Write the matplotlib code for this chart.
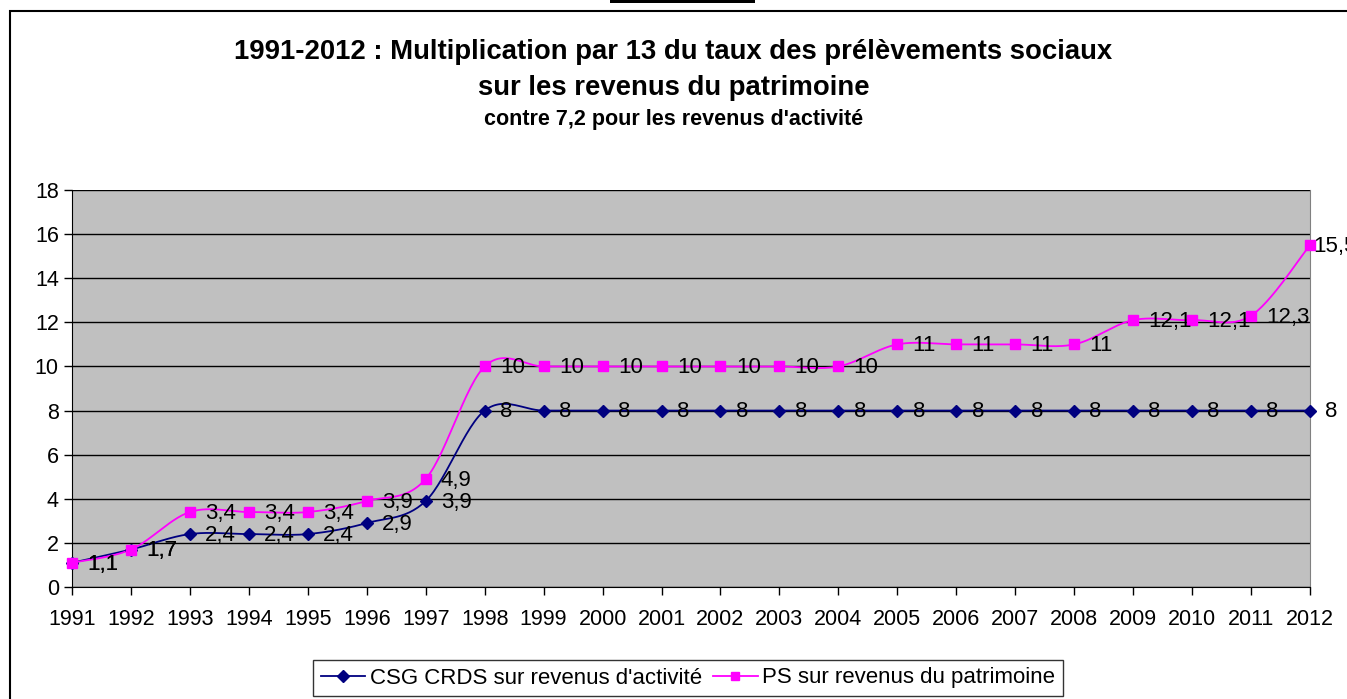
import numpy as np
import matplotlib
matplotlib.use("Agg")
import matplotlib.pyplot as plt
from matplotlib.patches import Rectangle
from matplotlib.lines import Line2D

plt.rcParams['font.family'] = ['Liberation Sans', 'DejaVu Sans']

years = list(range(1991, 2013))
csg = [1.1, 1.7, 2.4, 2.4, 2.4, 2.9, 3.9, 8, 8, 8, 8, 8, 8, 8, 8, 8, 8, 8, 8, 8, 8, 8]
ps = [1.1, 1.7, 3.4, 3.4, 3.4, 3.9, 4.9, 10, 10, 10, 10, 10, 10, 10, 11, 11, 11, 11, 12.1, 12.1, 12.3, 15.5]
csg_label = "CSG CRDS sur revenus d'activité"
ps_label = "PS sur revenus du patrimoine"

navy = '#000080'
magenta = '#FF00FF'


def smooth(x, y, n=30):
    # Bezier smoothing like Excel (Catmull-Rom control points)
    x = np.asarray(x, float)
    y = np.asarray(y, float)
    px = np.concatenate([[x[0]], x, [x[-1]]])
    py = np.concatenate([[y[0]], y, [y[-1]]])
    t = np.linspace(0, 1, n)
    xs, ys = [], []
    for i in range(len(x) - 1):
        p0 = np.array([px[i + 1], py[i + 1]])
        p3 = np.array([px[i + 2], py[i + 2]])
        c1 = p0 + (p3 - np.array([px[i], py[i]])) / 6
        c2 = p3 - (np.array([px[i + 3], py[i + 3]]) - p0) / 6
        b = ((1 - t) ** 3)[:, None] * p0 + (3 * (1 - t) ** 2 * t)[:, None] * c1 \
            + (3 * (1 - t) * t ** 2)[:, None] * c2 + (t ** 3)[:, None] * p3
        xs.append(b[:, 0])
        ys.append(b[:, 1])
    return np.concatenate(xs), np.concatenate(ys)


fig = plt.figure(figsize=(13.47, 6.99), dpi=100)
ax = fig.add_axes([72 / 1347, 112 / 699, 1238 / 1347, 397 / 699])
ax.set_facecolor('#C0C0C0')

sx, sy = smooth(years, csg)
ax.plot(sx, sy, color=navy, lw=1.3, zorder=3)
ax.plot(years, csg, ls='none', marker='D', color=navy, ms=6.5, zorder=4, clip_on=False)
sx, sy = smooth(years, ps)
ax.plot(sx, sy, color=magenta, lw=1.3, zorder=3)
ax.plot(years, ps, ls='none', marker='s', color=magenta, ms=7.5, zorder=4, clip_on=False)

for yr, v in zip(years, csg):
    ax.annotate(('%g' % v).replace('.', ','), (yr, v), xytext=(11, -1), textcoords='offset points',
                va='center', ha='left', fontsize=16, zorder=5, annotation_clip=False)
for i, (yr, v) in enumerate(zip(years, ps)):
    dx = 2 if i == len(ps) - 1 else 11   # last label squeezed against the edge, as in Excel
    ax.annotate(('%g' % v).replace('.', ','), (yr, v), xytext=(dx, -1), textcoords='offset points',
                va='center', ha='left', fontsize=16, zorder=5, annotation_clip=False)

ax.set_xlim(1991, 2012)
ax.set_ylim(0, 18)
ax.set_yticks(range(0, 19, 2))
ax.set_xticks(years)
ax.yaxis.grid(True, color='black', lw=1)
ax.set_axisbelow(True)
ax.tick_params(axis='both', direction='out', length=6, width=1, color='black', labelsize=15.5)
ax.tick_params(axis='x', pad=10)
ax.spines['top'].set_visible(False)
ax.spines['right'].set_color('#808080')
ax.spines['left'].set_color('black')
ax.spines['bottom'].set_color('black')

fig.text(0.5, 1 - 52 / 699, "1991-2012 : Multiplication par 13 du taux des prélèvements sociaux",
         ha='center', va='center', fontsize=19.8, fontweight='bold')
fig.text(0.5, 1 - 88 / 699, "sur les revenus du patrimoine",
         ha='center', va='center', fontsize=19.8, fontweight='bold')
fig.text(0.5, 1 - 119 / 699, "contre 7,2 pour les revenus d'activité",
         ha='center', va='center', fontsize=15.5, fontweight='bold')

handles = [Line2D([], [], color=navy, marker='D', ms=6, lw=1.3),
           Line2D([], [], color=magenta, marker='s', ms=6, lw=1.3)]
leg = fig.legend(handles, [csg_label, ps_label], loc='center', ncol=2,
                 bbox_to_anchor=(688 / 1347, 21 / 699), fontsize=16, frameon=True,
                 fancybox=False, edgecolor='black', handlelength=2.0, columnspacing=0.5,
                 handletextpad=0.2, borderpad=0.35)
leg.get_frame().set_linewidth(1)

# outer chart frame
fig.patches.append(Rectangle((10 / 1347, -0.1), 1.2, 1.1 - 11 / 699, transform=fig.transFigure,
                             fill=False, edgecolor='black', lw=1.5))
fig.patches.append(Rectangle((610 / 1347, 1 - 2.5 / 699), 145 / 1347, 3 / 699, transform=fig.transFigure,
                             facecolor='black', edgecolor='none'))

fig.savefig('out.png', dpi=100)
